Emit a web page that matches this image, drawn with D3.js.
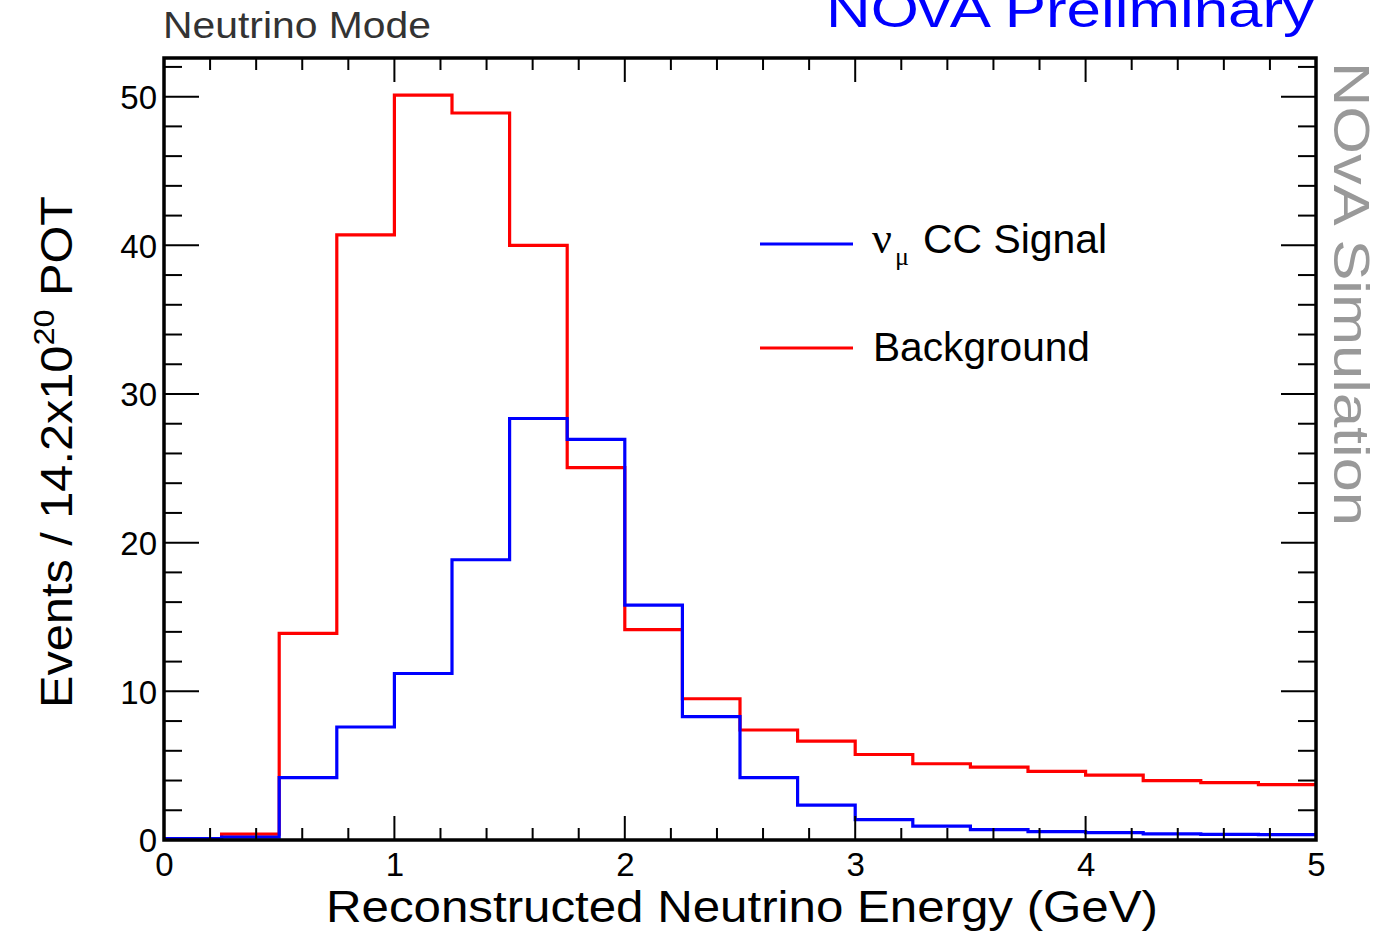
<!DOCTYPE html>
<html>
<head>
<meta charset="utf-8">
<script src="https://cdn.jsdelivr.net/npm/d3@7"></script>
<style>
  html, body { margin: 0; padding: 0; background: #fff; }
  svg { display: block; }
  text { font-family: "Liberation Sans", Arial, Helvetica, sans-serif; }
</style>
</head>
<body>
<svg id="chart" width="1382" height="933"></svg>
<script>
// Bin edges of the reconstructed energy histogram (GeV), 0.25 GeV wide
const binEdges = [0, 0.25, 0.5, 0.75, 1.0, 1.25, 1.5, 1.75, 2.0, 2.25, 2.5,
                  2.75, 3.0, 3.25, 3.5, 3.75, 4.0, 4.25, 4.5, 4.75, 5.0];

// Events per bin, numu CC signal
const signalCounts = [0.1, 0.2, 4.2, 7.6, 11.2, 18.85, 28.35, 26.95, 15.8, 8.3,
                      4.2, 2.35, 1.37, 0.94, 0.7, 0.56, 0.5, 0.41, 0.38, 0.36];

// Events per bin, background
const backgroundCounts = [0.1, 0.4, 13.9, 40.7, 50.1, 48.9, 40.0, 25.05, 14.15, 9.5,
                          7.4, 6.65, 5.75, 5.13, 4.9, 4.62, 4.36, 4.0, 3.86, 3.72];

const xTickValues = [0, 1, 2, 3, 4, 5];
const yTickValues = [0, 10, 20, 30, 40, 50];

const svg = d3.select("#chart");
const L = 164, R = 1316, T = 58, B = 840;

const x = d3.scaleLinear().domain([0, 5]).range([L, R]);
const y = d3.scaleLinear().domain([0, 52.6]).range([B, T]);

// Histogram outlines as step paths
function stepPoints(counts) {
  const pts = [];
  counts.forEach((v, i) => {
    pts.push([binEdges[i], v]);
    pts.push([binEdges[i + 1], v]);
  });
  return pts;
}
const line = d3.line().x(d => x(d[0])).y(d => y(d[1]));

const plot = svg.append("g");
plot.append("path")
  .attr("d", line(stepPoints(backgroundCounts)))
  .attr("fill", "none").attr("stroke", "#ff0000").attr("stroke-width", 3.2)
  .attr("stroke-linejoin", "miter");
plot.append("path")
  .attr("d", line(stepPoints(signalCounts)))
  .attr("fill", "none").attr("stroke", "#0000ff").attr("stroke-width", 3.2)
  .attr("stroke-linejoin", "miter");

// Ticks: majors and minors on all four sides, pointing inward
const xMinor = d3.range(0, 5.0001, 0.2);
const yMinor = d3.range(0, 52.6, 2);
const ticks = svg.append("g").attr("stroke", "#000").attr("stroke-width", 2);
xMinor.forEach(v => {
  const major = Math.abs(v - Math.round(v)) < 1e-6;
  const len = major ? 24 : 12;
  ticks.append("line").attr("x1", x(v)).attr("x2", x(v)).attr("y1", B).attr("y2", B - len);
  ticks.append("line").attr("x1", x(v)).attr("x2", x(v)).attr("y1", T).attr("y2", T + len);
});
yMinor.forEach(v => {
  const major = v % 10 === 0;
  const len = major ? 35 : 18;
  ticks.append("line").attr("x1", L).attr("x2", L + len).attr("y1", y(v)).attr("y2", y(v));
  ticks.append("line").attr("x1", R).attr("x2", R - len).attr("y1", y(v)).attr("y2", y(v));
});

// Frame
svg.append("rect")
  .attr("x", L).attr("y", T).attr("width", R - L).attr("height", B - T)
  .attr("fill", "none").attr("stroke", "#000").attr("stroke-width", 3.5);

// Axis labels drawn through d3 axes with tick lines removed
const xAxis = d3.axisBottom(x).tickValues(xTickValues).tickFormat(d3.format("d")).tickSize(0).tickPadding(0);
const gx = svg.append("g").attr("transform", `translate(0,${B})`).call(xAxis);
gx.select(".domain").remove();
gx.selectAll("text").attr("font-size", 33).attr("fill", "#000")
  .attr("dy", null).attr("y", 36)
  .style("font-family", "'Liberation Sans', Arial, sans-serif");

const yAxis = d3.axisLeft(y).tickValues(yTickValues).tickFormat(d3.format("d")).tickSize(0).tickPadding(0);
const gy = svg.append("g").attr("transform", `translate(${L - 7},0)`).call(yAxis);
gy.select(".domain").remove();
gy.selectAll("text").attr("font-size", 33).attr("fill", "#000")
  .attr("dy", "0.36em")
  .style("font-family", "'Liberation Sans', Arial, sans-serif");

// Axis titles
svg.append("text")
  .attr("x", 326).attr("y", 922).attr("text-anchor", "start")
  .attr("font-size", 45).attr("fill", "#000")
  .attr("textLength", 832).attr("lengthAdjust", "spacingAndGlyphs")
  .text("Reconstructed Neutrino Energy (GeV)");

const yTitle = svg.append("text")
  .attr("transform", "translate(72,708) rotate(-90)")
  .attr("font-size", 45).attr("fill", "#000")
  .attr("textLength", 512).attr("lengthAdjust", "spacingAndGlyphs");
yTitle.append("tspan").text("Events / 14.2x10");
yTitle.append("tspan").attr("font-size", 30).attr("dy", -18).text("20");
yTitle.append("tspan").attr("dy", 18).text(" POT");

// Header labels
svg.append("text")
  .attr("x", 163).attr("y", 38)
  .attr("font-size", 36).attr("fill", "#333")
  .attr("textLength", 268).attr("lengthAdjust", "spacingAndGlyphs")
  .text("Neutrino Mode");

svg.append("text")
  .attr("x", 826).attr("y", 27)
  .attr("font-size", 50).attr("fill", "#0000ff")
  .attr("textLength", 488).attr("lengthAdjust", "spacingAndGlyphs")
  .text("NOvA Preliminary");

svg.append("text")
  .attr("transform", "translate(1334,62) rotate(90)")
  .attr("font-size", 50).attr("fill", "#999")
  .attr("textLength", 464).attr("lengthAdjust", "spacingAndGlyphs")
  .text("NOvA Simulation");

// Legend
const legendItems = [
  { color: "#0000ff", yPos: 244 },
  { color: "#ff0000", yPos: 348 }
];
const legend = svg.append("g");
legendItems.forEach(d => {
  legend.append("line")
    .attr("x1", 760).attr("x2", 853).attr("y1", d.yPos).attr("y2", d.yPos)
    .attr("stroke", d.color).attr("stroke-width", 3.2);
});
const serif = "'Liberation Serif', 'DejaVu Serif', serif";
legend.append("text").attr("x", 872).attr("y", 253).attr("font-size", 44).attr("fill", "#000")
  .style("font-family", serif).text("ν");
legend.append("text").attr("x", 895).attr("y", 265).attr("font-size", 26).attr("fill", "#000")
  .style("font-family", serif).text("μ");
legend.append("text").attr("x", 923).attr("y", 253).attr("font-size", 41).attr("fill", "#000")
  .attr("textLength", 184).attr("lengthAdjust", "spacingAndGlyphs")
  .text("CC Signal");
legend.append("text").attr("x", 873).attr("y", 361).attr("font-size", 41).attr("fill", "#000")
  .attr("textLength", 217).attr("lengthAdjust", "spacingAndGlyphs")
  .text("Background");
</script>
</body>
</html>
